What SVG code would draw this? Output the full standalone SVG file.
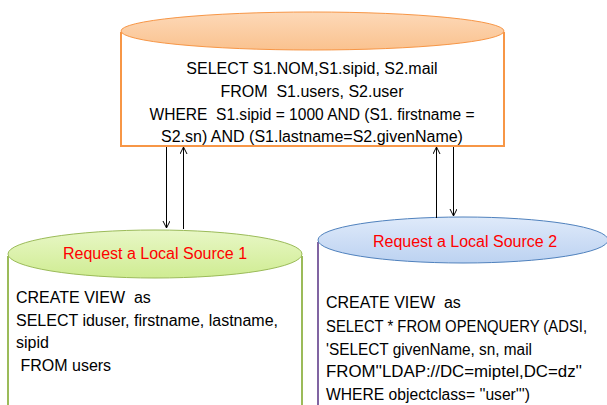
<svg xmlns="http://www.w3.org/2000/svg" width="607" height="405" viewBox="0 0 607 405">
<defs>
<style>
text{font-family:"Liberation Sans",Arial,sans-serif;font-size:16px;fill:#000;white-space:pre}
.red{fill:#ff0000}
.c{text-anchor:middle}
.conn{stroke:#000;stroke-width:1;fill:none;marker-end:url(#arr)}
</style>
<linearGradient id="gO" x1="0" y1="0" x2="0" y2="1"><stop offset="0" stop-color="#fdd9b8"/><stop offset="1" stop-color="#fac28f"/></linearGradient>
<linearGradient id="gG" x1="0" y1="0" x2="0" y2="1"><stop offset="0" stop-color="#e8f7c6"/><stop offset="1" stop-color="#cfec92"/></linearGradient>
<linearGradient id="gB" x1="0" y1="0" x2="0" y2="1"><stop offset="0" stop-color="#dfeafa"/><stop offset="1" stop-color="#bcd2f1"/></linearGradient>
<marker id="arr" markerWidth="10" markerHeight="10" refX="7" refY="3.5" orient="auto" markerUnits="userSpaceOnUse"><path d="M0,0 L7,3.5 L0,7" fill="none" stroke="#000" stroke-width="1"/></marker>
</defs>
<rect width="607" height="405" fill="#fff"/>
<g id="main-query">
<path d="M121,32 V146 H504 V32" fill="#fff" stroke="#f79646" stroke-width="2"/>
<ellipse cx="312.5" cy="31" rx="191.5" ry="19" fill="url(#gO)" stroke="#f79646" stroke-width="1"/>
<text class="c" x="312" y="74">SELECT S1.NOM,S1.sipid, S2.mail</text>
<text class="c" x="312" y="97">FROM  S1.users, S2.user</text>
<text class="c" x="312" y="120" textLength="325" lengthAdjust="spacingAndGlyphs">WHERE  S1.sipid = 1000 AND (S1. firstname =</text>
<text class="c" x="312" y="142">S2.sn) AND (S1.lastname=S2.givenName)</text>
</g>
<g id="source1">
<path d="M8,256 V410 M302,256 V410" fill="none" stroke="#9bbb59" stroke-width="2"/>
<ellipse cx="155" cy="254" rx="147" ry="24" fill="url(#gG)" stroke="#9bbb59" stroke-width="1"/>
<text class="c red" x="155" y="259">Request a Local Source 1</text>
<text x="16" y="303">CREATE VIEW  as</text>
<text x="16" y="326">SELECT iduser, firstname, lastname,</text>
<text x="16" y="348">sipid</text>
<text x="16" y="371"> FROM users</text>
</g>
<g id="source2">
<path d="M318,242 V410" fill="none" stroke="#8064a2" stroke-width="2"/>
<ellipse cx="463" cy="240" rx="145" ry="23" fill="url(#gB)" stroke="#4f81bd" stroke-width="1"/>
<text class="c red" x="465" y="247">Request a Local Source 2</text>
<text x="326" y="308">CREATE VIEW  as</text>
<text x="326" y="332" textLength="261" lengthAdjust="spacingAndGlyphs">SELECT * FROM OPENQUERY (ADSI,</text>
<text x="326" y="355" textLength="206" lengthAdjust="spacingAndGlyphs">'SELECT givenName, sn, mail</text>
<text x="326" y="377" textLength="256" lengthAdjust="spacingAndGlyphs">FROM''LDAP://DC=miptel,DC=dz''</text>
<text x="326" y="400" textLength="204" lengthAdjust="spacingAndGlyphs">WHERE objectclass= ''user''')</text>
</g>
<g id="connectors">
<line class="conn" x1="166.5" y1="147" x2="166.5" y2="228"/>
<line class="conn" x1="183.5" y1="229" x2="183.5" y2="147"/>
<line class="conn" x1="436.5" y1="218" x2="436.5" y2="147"/>
<line class="conn" x1="453.5" y1="147" x2="453.5" y2="216"/>
</g>
</svg>
